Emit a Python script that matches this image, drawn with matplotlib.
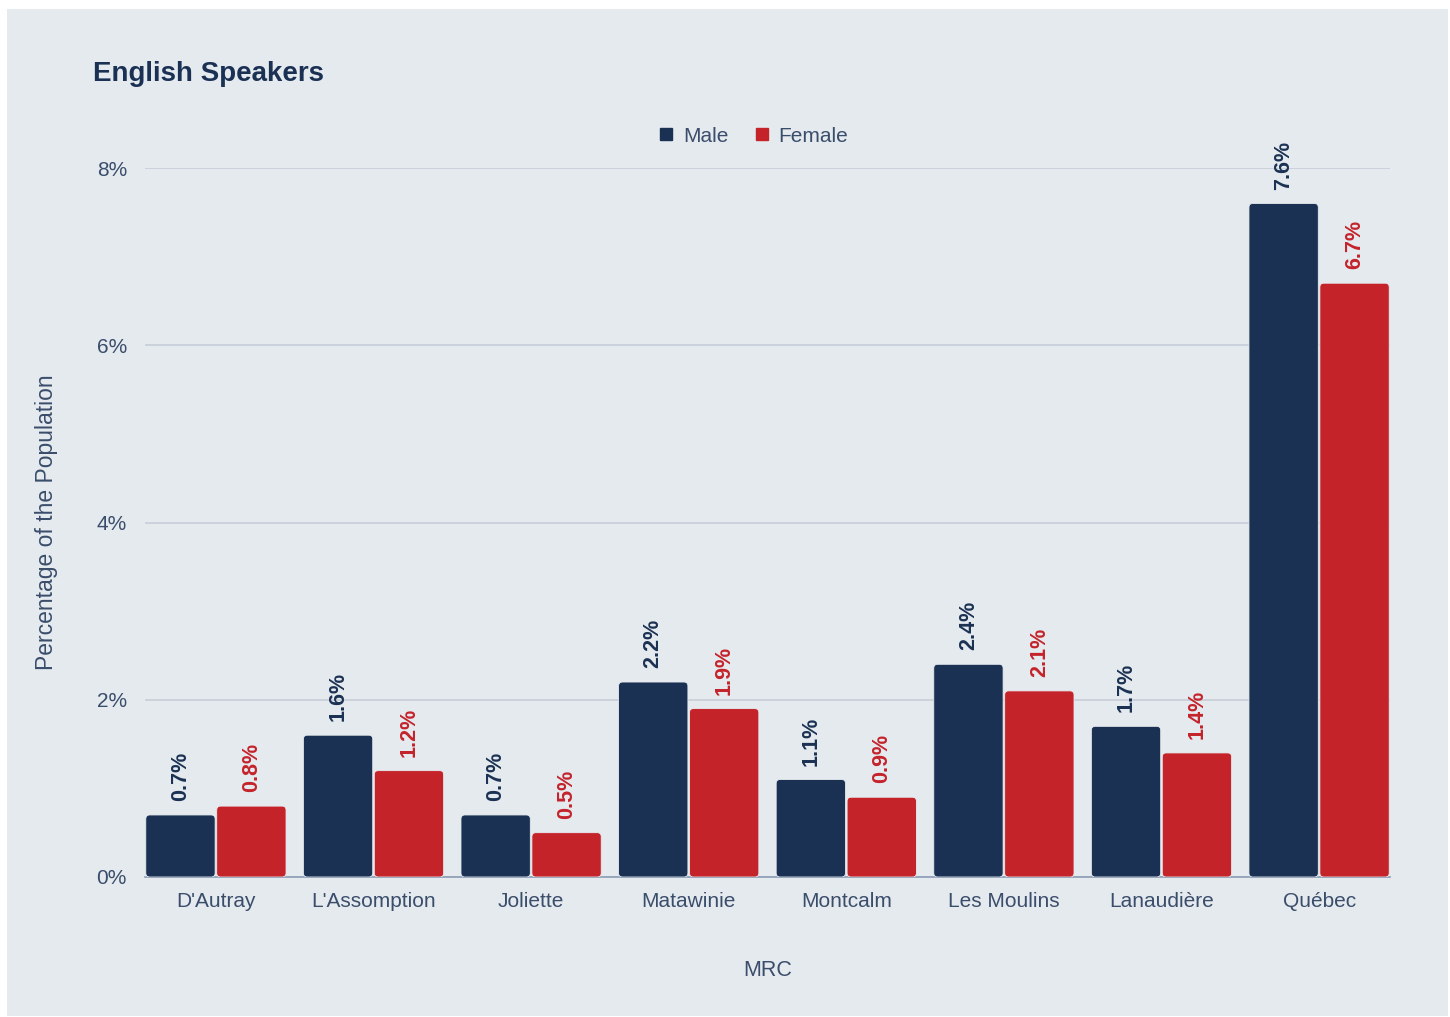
import numpy as np
import matplotlib.pyplot as plt
from matplotlib.patches import FancyBboxPatch, Rectangle
from matplotlib.lines import Line2D

plt.rcParams['font.family'] = ['Liberation Sans', 'DejaVu Sans']

mrc = ["D'Autray", "L'Assomption", "Joliette", "Matawinie", "Montcalm",
       "Les Moulins", "Lanaudière", "Québec"]
male = [0.7, 1.6, 0.7, 2.2, 1.1, 2.4, 1.7, 7.6]
female = [0.8, 1.2, 0.5, 1.9, 0.9, 2.1, 1.4, 6.7]
yticks = [0, 2, 4, 6, 8]

navy = "#1b3153"
red = "#c4232a"
bg = "#e5eaef"
txt = "#3a4d6b"

fig = plt.figure(figsize=(14.5, 10.17), dpi=100, facecolor="white")
fig.patches.append(Rectangle((7 / 1450, 1 - 1016 / 1017), 1441 / 1450, 1007 / 1017,
                             transform=fig.transFigure, facecolor=bg,
                             edgecolor="none", zorder=-10))

ax = fig.add_axes([145 / 1450, 1 - 877 / 1017, 1245 / 1450, 709 / 1017])
ax.set_facecolor(bg)
ax.patch.set_alpha(0)

x = np.arange(len(mrc))
w = 0.44
off = 0.225


def rounded_bars(xs, vals, color):
    bars = ax.bar(xs, vals, w, color=color)
    for b in bars:
        b.set_visible(False)
        p = FancyBboxPatch((b.get_x(), b.get_y()), b.get_width(), b.get_height(),
                           boxstyle="round,pad=0,rounding_size=0.025",
                           mutation_aspect=1.8, facecolor=color,
                           edgecolor="#e8ecf0", linewidth=0.6, zorder=3)
        ax.add_patch(p)
    return bars


rounded_bars(x - off, male, navy)
rounded_bars(x + off, female, red)

for xi, v in zip(x - off, male):
    ax.annotate(f"{v:.1f}%", (xi, v), xytext=(0, 10), textcoords="offset points",
                rotation=90, ha="center", va="bottom", fontsize=15.5,
                fontweight="bold", color=navy, zorder=4)
for xi, v in zip(x + off, female):
    ax.annotate(f"{v:.1f}%", (xi, v), xytext=(0, 10), textcoords="offset points",
                rotation=90, ha="center", va="bottom", fontsize=15.5,
                fontweight="bold", color=red, zorder=4)

ax.set_xlim(-0.45, len(mrc) - 0.55)
ax.set_ylim(0, 8)
ax.set_yticks(yticks)
ax.set_yticklabels([f"{t}%" for t in yticks])
ax.set_xticks(x)
ax.set_xticklabels(mrc)
ax.tick_params(axis="both", length=0, labelsize=15, labelcolor=txt)
ax.tick_params(axis="y", pad=13)
ax.tick_params(axis="x", pad=11)
ax.grid(axis="y", color="#c6ced8", linewidth=1.2, zorder=0)
ax.set_axisbelow(True)
for s in ["top", "right", "left"]:
    ax.spines[s].set_visible(False)
ax.spines["bottom"].set_color("#8c9db3")
ax.spines["bottom"].set_linewidth(1.2)

ax.set_xlabel("MRC", fontsize=15.5, color=txt, labelpad=35)
ax.set_ylabel("Percentage of the Population", fontsize=16.5, color=txt, labelpad=28)

fig.text(93 / 1450, 1 - 74 / 1017, "English Speakers", fontsize=20,
         fontweight="bold", color=navy, ha="left", va="center")

handles = [Line2D([], [], marker="s", linestyle="none", markersize=8, color=navy),
           Line2D([], [], marker="s", linestyle="none", markersize=8, color=red)]
fig.legend(handles, ["Male", "Female"], loc="center",
           bbox_to_anchor=(752 / 1450, 1 - 136 / 1017), ncol=2, frameon=False,
           fontsize=15, labelcolor=txt, handletextpad=0.3, columnspacing=1.1,
           handlelength=1.0)

fig.savefig("out.png", dpi=100, facecolor="white")
